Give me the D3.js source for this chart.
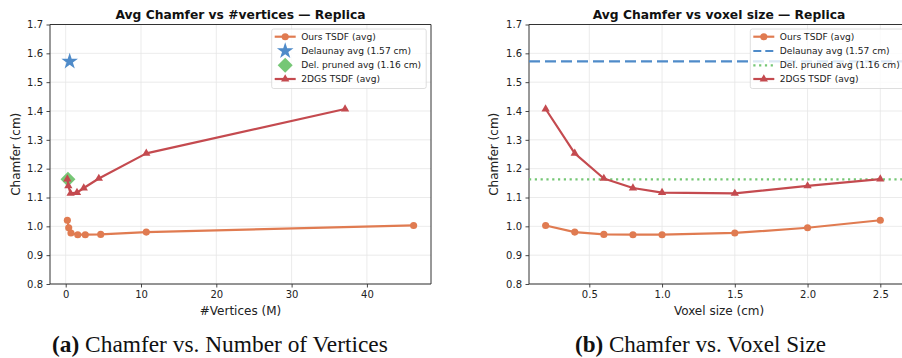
<!DOCTYPE html>
<html><head><meta charset="utf-8">
<script src="https://cdn.jsdelivr.net/npm/d3@7"></script>
<style>
html,body{margin:0;padding:0;background:#fff;}
svg{display:block;}
text{font-family:"DejaVu Sans",sans-serif;}
text.cap{font-family:"Liberation Serif","DejaVu Serif",serif;}
</style></head>
<body>
<svg id="chart" width="902" height="358"></svg>
<script>
// ---------------- data ----------------
const voxelSizes = [0.2, 0.4, 0.6, 0.8, 1.0, 1.5, 2.0, 2.5];
const oursChamfer = [1.003, 0.980, 0.972, 0.971, 0.971, 0.977, 0.995, 1.021];
const oursVertices = [46.2, 10.7, 4.65, 2.6, 1.6, 0.7, 0.4, 0.22];
const gsChamfer = [1.407, 1.253, 1.166, 1.133, 1.117, 1.114, 1.140, 1.164];
const gsVertices = [37.1, 10.7, 4.4, 2.4, 1.5, 0.65, 0.35, 0.22];
const delaunayAvg = 1.572;
const delaunayVertices = 0.53;
const delPrunedAvg = 1.163;
const delPrunedVertices = 0.3;
const yTicks = [0.8, 0.9, 1.0, 1.1, 1.2, 1.3, 1.4, 1.5, 1.6, 1.7];
const xTicksA = [0, 10, 20, 30, 40];
const xTicksB = [0.5, 1.0, 1.5, 2.0, 2.5];
const legendLabels = ["Ours TSDF (avg)", "Delaunay avg (1.57 cm)", "Del. pruned avg (1.16 cm)", "2DGS TSDF (avg)"];
const titles = ["Avg Chamfer vs #vertices \u2014 Replica", "Avg Chamfer vs voxel size \u2014 Replica"];
const xLabels = ["#Vertices (M)", "Voxel size (cm)"];
const yLabel = "Chamfer (cm)";
const captions = [["(a)", " Chamfer vs. Number of Vertices"], ["(b)", " Chamfer vs. Voxel Size"]];

// ---------------- style ----------------
const C_OURS = "#e07b51", C_GS = "#c44a4f", C_DEL = "#4f8bc9", C_PR = "#76c776";
const spineC = "#333", gridC = "#e6e6e6";
const svg = d3.select("#chart");

const yTop = 24.5, yBot = 284;
const y = d3.scaleLinear().domain([0.8, 1.7]).range([yBot, yTop]);

function frame(g, x, left, right, xt, fmtX, title, xl, ylx, rightSpine) {
  g.append("g").selectAll("line").data(yTicks).join("line")
    .attr("x1", left).attr("x2", right).attr("y1", d => y(d)).attr("y2", d => y(d))
    .attr("stroke", gridC).attr("stroke-width", 0.8);
  g.append("g").selectAll("line").data(xt).join("line")
    .attr("x1", d => x(d)).attr("x2", d => x(d)).attr("y1", yTop).attr("y2", yBot)
    .attr("stroke", gridC).attr("stroke-width", 0.8);
  const ya = d3.axisLeft(y).tickValues(yTicks).tickFormat(d3.format(".1f")).tickSize(3.5).tickPadding(3.5);
  const ygEl = g.append("g").attr("transform", `translate(${left},0)`).call(ya);
  const xa = d3.axisBottom(x).tickValues(xt).tickFormat(fmtX).tickSize(3.5).tickPadding(3.5);
  const xgEl = g.append("g").attr("transform", `translate(0,${yBot})`).call(xa);
  [ygEl, xgEl].forEach(a => {
    a.select(".domain").remove();
    a.selectAll("line").attr("stroke", spineC).attr("stroke-width", 0.9);
    a.selectAll("text").attr("font-size", 10).attr("fill", "#222");
  });
  g.append("line").attr("x1", left).attr("x2", left).attr("y1", yTop).attr("y2", yBot).attr("stroke", spineC).attr("stroke-width", 1);
  g.append("line").attr("x1", left).attr("x2", right).attr("y1", yBot).attr("y2", yBot).attr("stroke", spineC).attr("stroke-width", 1);
  g.append("line").attr("x1", left).attr("x2", right).attr("y1", yTop).attr("y2", yTop).attr("stroke", spineC).attr("stroke-width", 1);
  if (rightSpine) g.append("line").attr("x1", right).attr("x2", right).attr("y1", yTop).attr("y2", yBot).attr("stroke", spineC).attr("stroke-width", 1);
  g.append("text").attr("x", (left + right) / 2).attr("y", 18.5).attr("text-anchor", "middle")
    .attr("font-weight", "bold").attr("font-size", 12.3).attr("fill", "#111").text(title);
  g.append("text").attr("x", (left + right) / 2).attr("y", 315).attr("text-anchor", "middle")
    .attr("font-size", 12).attr("fill", "#222").text(xl);
  g.append("text").attr("transform", `translate(${ylx},${(yTop + yBot) / 2}) rotate(-90)`)
    .attr("text-anchor", "middle").attr("dy", "0.35em").attr("font-size", 12).attr("fill", "#222").text(yLabel);
}

function seriesLine(g, x, xs, ys, color, symbol) {
  const pts = xs.map((v, i) => [x(v), y(ys[i])]);
  g.append("path").attr("d", d3.line()(pts)).attr("fill", "none").attr("stroke", color)
    .attr("stroke-width", 2.2).attr("stroke-linejoin", "round");
  g.append("g").selectAll("path").data(pts).join("path")
    .attr("transform", d => `translate(${d[0]},${d[1]})`)
    .attr("d", symbol).attr("fill", color);
}
const circ = d3.symbol(d3.symbolCircle, 40)();
const tri = d3.symbol(d3.symbolTriangle, 30)();
const star = d3.symbol(d3.symbolStar, 85)();
const diam = d3.symbol(d3.symbolSquare, 112)();

function legend(g, lx, ly, w, handles) {
  g.append("rect").attr("x", lx).attr("y", ly).attr("width", w).attr("height", 59.5)
    .attr("rx", 2).attr("fill", "#fff").attr("fill-opacity", 0.8).attr("stroke", "#d5d5d5").attr("stroke-width", 0.8);
  const rows = [36.7, 51, 65.3, 79];
  handles.forEach((h, i) => {
    const cy = rows[i];
    const hx1 = lx + 3, hx2 = lx + 24, hm = (hx1 + hx2) / 2;
    h(g, hx1, hx2, hm, cy);
    g.append("text").attr("x", lx + 29.5).attr("y", cy).attr("dy", "0.35em")
      .attr("font-size", 9.1).attr("fill", "#222").text(legendLabels[i]);
  });
}
const hLine = (color, sym) => (g, a, b, m, cy) => {
  g.append("line").attr("x1", a).attr("x2", b).attr("y1", cy).attr("y2", cy).attr("stroke", color).attr("stroke-width", 2.2);
  g.append("path").attr("transform", `translate(${m},${cy})`).attr("d", sym).attr("fill", color);
};
const hMark = (color, sym, rot) => (g, a, b, m, cy) => {
  g.append("path").attr("transform", `translate(${m},${cy}) rotate(${rot})`).attr("d", sym).attr("fill", color);
};
const hDash = (color, dash) => (g, a, b, m, cy) => {
  g.append("line").attr("x1", a).attr("x2", b).attr("y1", cy).attr("y2", cy).attr("stroke", color)
    .attr("stroke-width", 2.2).attr("stroke-dasharray", dash);
};

// ---------------- panel (a) ----------------
{
  const left = 50, right = 431;
  const x = d3.scaleLinear().domain([-2.085, 48.51]).range([left, right]);
  const g = svg.append("g");
  frame(g, x, left, right, xTicksA, d3.format("d"), titles[0], xLabels[0], 16, true);
  seriesLine(g, x, oursVertices, oursChamfer, C_OURS, circ);
  g.append("path").attr("transform", `translate(${x(delaunayVertices)},${y(delaunayAvg)})`).attr("d", star).attr("fill", C_DEL);
  g.append("path").attr("transform", `translate(${x(delPrunedVertices)},${y(delPrunedAvg)}) rotate(45)`).attr("d", diam).attr("fill", C_PR);
  seriesLine(g, x, gsVertices, gsChamfer, C_GS, tri);
  legend(g, 271.7, 29, 154.5, [hLine(C_OURS, circ), hMark(C_DEL, star, 0), hMark(C_PR, diam, 45), hLine(C_GS, tri)]);
}
// ---------------- panel (b) ----------------
{
  const left = 529, right = 909;
  const x = d3.scaleLinear().domain([0.5, 2.5]).range([589.3, 880.3]);
  const g = svg.append("g");
  frame(g, x, left, right, xTicksB, d3.format(".1f"), titles[1], xLabels[1], 494, false);
  seriesLine(g, x, voxelSizes, oursChamfer, C_OURS, circ);
  g.append("line").attr("x1", left).attr("x2", right).attr("y1", y(delaunayAvg)).attr("y2", y(delaunayAvg))
    .attr("stroke", C_DEL).attr("stroke-width", 2.2).attr("stroke-dasharray", "11,5");
  g.append("line").attr("x1", left).attr("x2", right).attr("y1", y(delPrunedAvg)).attr("y2", y(delPrunedAvg))
    .attr("stroke", C_PR).attr("stroke-width", 2.2).attr("stroke-dasharray", "2.2,3.6");
  seriesLine(g, x, voxelSizes, gsChamfer, C_GS, tri);
  legend(g, 750.3, 29, 158, [hLine(C_OURS, circ), hDash(C_DEL, "8,4"), hDash(C_PR, "2.2,3.6"), hLine(C_GS, tri)]);
}
// ---------------- captions ----------------
const capX = [52, 575], capW = [336, 251];
captions.forEach((c, i) => {
  const t = svg.append("text").attr("class", "cap").attr("x", capX[i]).attr("y", 352)
    .attr("font-size", 100).attr("fill", "#111");
  t.append("tspan").attr("font-weight", "bold").text(c[0]);
  t.append("tspan").text(c[1]);
  const w = t.node().getComputedTextLength();
  t.attr("font-size", 100 * capW[i] / w);
});
</script>
</body></html>
